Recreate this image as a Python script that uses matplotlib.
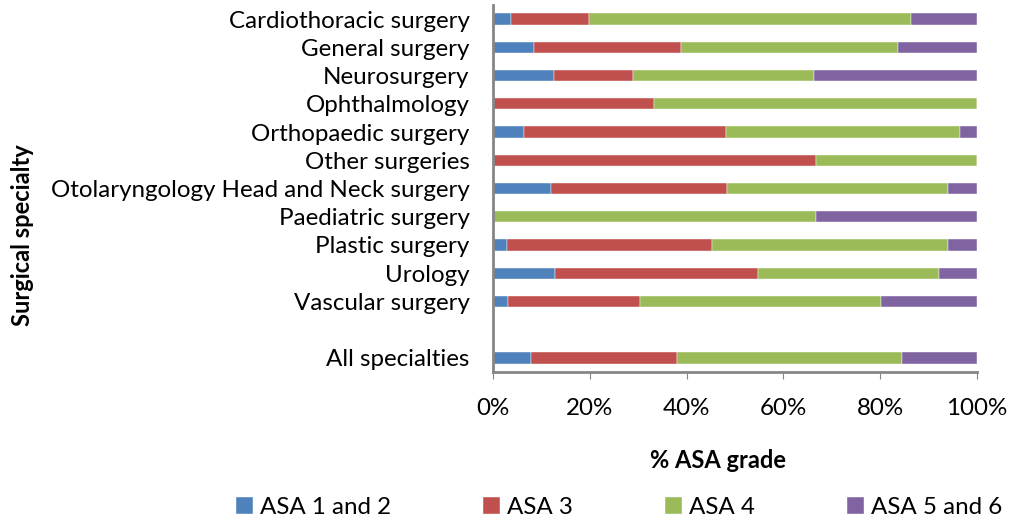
import numpy as np
import matplotlib.pyplot as plt

plt.rcParams['font.family'] = ['Lato', 'DejaVu Sans']

specialties = ['Cardiothoracic surgery', 'General surgery', 'Neurosurgery', 'Ophthalmology',
               'Orthopaedic surgery', 'Other surgeries', 'Otolaryngology Head and Neck surgery',
               'Paediatric surgery', 'Plastic surgery', 'Urology', 'Vascular surgery', '',
               'All specialties']
asa12 = [3.8, 8.5, 12.6, 0.0, 6.4, 0.0, 11.9, 0.0, 2.8, 12.8, 3.2, 0, 7.9]
asa3 = [16.0, 30.4, 16.4, 33.3, 41.7, 66.7, 36.5, 0.0, 42.4, 42.0, 27.1, 0, 30.1]
asa4 = [66.6, 44.8, 37.4, 66.7, 48.4, 33.3, 45.6, 66.7, 48.8, 37.3, 49.9, 0, 46.5]
asa56 = [13.6, 16.3, 33.6, 0.0, 3.5, 0.0, 6.0, 33.3, 6.0, 7.9, 19.8, 0, 15.5]

series = [('ASA 1 and 2', asa12, '#4F81BD'), ('ASA 3', asa3, '#C0504D'),
          ('ASA 4', asa4, '#9BBB59'), ('ASA 5 and 6', asa56, '#8064A2')]

fig = plt.figure(figsize=(10.1, 5.22), dpi=100)
ax = fig.add_axes([493/1010, 1-372/522, 484/1010, 367/522])

y = np.arange(len(specialties))
left = np.zeros(len(specialties))
for name, vals, col in series:
    vals = np.array(vals)
    ax.barh(y, vals, left=left, height=0.4, color=col, label=name,
            edgecolor='white', linewidth=0.3)
    left += vals

ax.set_ylim(len(specialties) - 0.5, -0.5)
ax.set_xlim(0, 100)
ax.set_yticks(y)
ax.set_yticklabels(specialties, fontsize=17.4)
ax.set_xticks(np.arange(0, 101, 20))
ax.set_xticklabels(['%d%%' % v for v in range(0, 101, 20)], fontsize=17.4)
ax.tick_params(axis='y', length=0, pad=17)
ax.tick_params(axis='x', length=5, color='#868686', pad=14, direction='out')
for s in ['top', 'right']:
    ax.spines[s].set_visible(False)
for s in ['left', 'bottom']:
    ax.spines[s].set_color('#868686')
    ax.spines[s].set_linewidth(2)

fig.text(718/1010, 1-460/522, '% ASA grade', fontsize=17, fontweight='bold',
         ha='center', va='center')
fig.text(23/1010, 1-235/522, 'Surgical specialty', fontsize=17, fontweight='bold',
         rotation=90, ha='center', va='center')

fig.legend(loc='center', bbox_to_anchor=(619/1010, 1-507/522), ncol=4, frameon=False,
           fontsize=17.4, handlelength=0.7, handleheight=0.7, handletextpad=0.3,
           columnspacing=3.8)

fig.savefig('out.png', dpi=100)
